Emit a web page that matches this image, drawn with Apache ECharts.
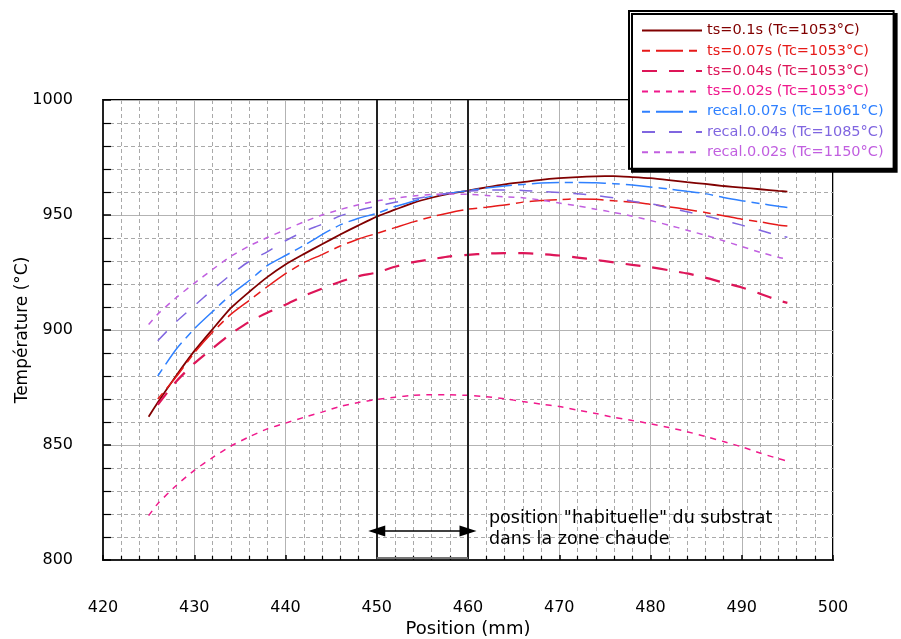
<!DOCTYPE html>
<html>
<head>
<meta charset="utf-8">
<script src="https://cdn.jsdelivr.net/npm/echarts@6/dist/echarts.min.js"></script>
<style>
html,body{margin:0;padding:0;background:#fff;}
#chart{width:901px;height:639px;}
</style>
</head>
<body>
<div id="chart"></div>
<script>
// ---- data ----
const positions = [425,426,428,430,432,434,436,438,440,442,444,446,448,450,452,454,456,458,460,462,464,466,468,470,472,474,476,478,480,482,484,486,488,490,492,494,495];

const ts010 = [862.3,868.5,880,890.8,900.3,909.5,916.5,923,928.5,933,937.3,941.5,945.5,949.3,952.3,955.3,957.5,959.3,960.6,962,963.3,964.3,965.3,966,966.5,966.8,966.9,966.5,966,965.2,964.3,963.5,962.6,961.9,961.2,960.5,960.2];
const ts007 = [null,870,879.5,890,899,906.8,912.8,918.8,924.5,929.3,932.8,936.5,939.6,942,944.5,947,949.2,951,952.5,953.4,954.3,955.6,956.3,956.7,957,956.8,956.2,955.6,954.6,953.6,952.4,951.1,949.7,948.2,947,945.7,945.2];
const ts004 = [null,867.5,877.5,885.5,892,898.3,903.5,907.5,911,914.8,918,921,923.4,925,927.5,929.5,930.8,932,932.7,933.2,933.4,933.4,933,932.4,931.5,930.5,929.4,928.3,927.3,926,924.6,922.8,920.6,918.5,915.8,912.9,911.8];
const ts002 = [819.3,824.5,832.3,839,844.5,849.5,853.5,857,859.5,862,864.3,866.8,868.5,869.8,870.8,871.6,871.9,871.8,871.6,871,870.1,868.9,867.8,866.7,865.2,863.7,862,860.7,859.2,857.6,855.8,853.7,851.5,849.2,846.5,844.1,843];
const recal007 = [null,880,891.5,900.5,908,915.3,921.4,928,932.4,936.7,941.5,945.7,948.6,950.7,953.7,956,958.2,959.5,960.6,961.7,962.6,963.3,963.9,964.1,964.1,964,963.6,963,962.2,961.3,960.3,959.3,957.6,956.2,955,953.8,953.3];
const recal004 = [null,895.3,903.5,910.5,917.5,924,929.8,934,938.8,942.8,946,949.6,952,953.8,955.5,957,958.3,959.6,960.4,960.8,960.9,960.7,960.2,959.8,959.2,958.5,957.4,956,954.9,953.1,951.4,949.6,947.7,945.6,943.4,941,940.3];
const recal002 = [902.4,906.9,914,920.3,926.3,932,936.5,940.2,943.6,947,950,952.4,954.5,956.1,957.3,958.3,958.9,959.1,959,958.5,957.9,957.5,956.5,955.2,954,952.5,951.1,949.5,947.6,945.6,943.4,941.2,938.8,936.3,933.8,931.6,930.8];

const seriesNames = [
  'ts=0.1s (Tc=1053°C)',
  'ts=0.07s (Tc=1053°C)',
  'ts=0.04s (Tc=1053°C)',
  'ts=0.02s (Tc=1053°C)',
  'recal.0.07s (Tc=1061°C)',
  'recal.0.04s (Tc=1085°C)',
  'recal.0.02s (Tc=1150°C)'
];
const seriesValues = [ts010, ts007, ts004, ts002, recal007, recal004, recal002];

const xTicks = {min: 420, max: 500, interval: 10};
const yTicks = {min: 800, max: 1000, interval: 50};

const zoneStart = 450, zoneEnd = 460;
const arrowY = 812.6;
const noteText = 'position "habituelle" du substrat\ndans la zone chaude';
const notePos = [462.3, 813.3];

// ---- styles ----
const FONT = 'DejaVu Sans';
const styles = [
  {color:'#800000', width:1.8, type:'solid'},
  {color:'#e61919', width:1.5, type:[8,6,27,6]},
  {color:'#dd1558', width:2.2, type:[15,12]},
  {color:'#f0198c', width:1.5, type:[6,6]},
  {color:'#2f80ff', width:1.5, type:[8,6,27,6]},
  {color:'#8066e0', width:1.5, type:[13,14]},
  {color:'#c15fe0', width:1.5, type:[6,6]}
];

const chart = echarts.init(document.getElementById('chart'), null, {renderer:'canvas'});

const series = seriesNames.map((name, i) => ({
  name: name,
  type: 'line',
  data: positions.map((x, k) => [x, seriesValues[i][k]]),
  showSymbol: false,
  symbol: 'none',
  smooth: 0.2,
  color: styles[i].color,
  lineStyle: {color: styles[i].color, width: styles[i].width, type: styles[i].type},
  z: 3
}));

series.push({
  name: '__annot',
  type: 'line',
  data: [],
  symbol: 'none',
  silent: true,
  z: 4,
  markLine: {
    silent: true,
    animation: false,
    symbol: ['none','none'],
    label: {show: false},
    emphasis: {disabled: true},
    data: [
      [{coord:[zoneStart, yTicks.min], lineStyle:{color:'#222', width:2, type:'solid'}}, {coord:[zoneStart, yTicks.max]}],
      [{coord:[zoneEnd, yTicks.min], lineStyle:{color:'#222', width:2, type:'solid'}}, {coord:[zoneEnd, yTicks.max]}],
      [{coord:[zoneStart, arrowY], symbol:'triangle', symbolSize:[11,17], lineStyle:{color:'#000', width:1.5, type:'solid'}},
       {coord:[zoneEnd, arrowY], symbol:'triangle', symbolSize:[11,17]}],
      [{coord:[zoneStart, 800.9], lineStyle:{color:'#777', width:2, type:'solid'}}, {coord:[zoneEnd, 800.9]}]
    ]
  }
});

const plain = v => String(v);

const option = {
  animation: false,
  backgroundColor: '#fff',
  textStyle: {fontFamily: FONT},
  grid: {left:103, right:68, top:100, bottom:79, show:true, borderColor:'#000', borderWidth:2,
         backgroundColor:'#fff', containLabel:false, outerBoundsMode:'none'},
  xAxis: {
    type: 'value', min: xTicks.min, max: xTicks.max, interval: xTicks.interval,
    name: 'Position (mm)', nameLocation: 'middle', nameGap: 60, nameMoveOverlap: false,
    nameTextStyle: {fontSize: 18, fontFamily: FONT, color: '#000'},
    axisLine: {show: true, onZero: false, lineStyle: {color: '#222', width: 2}},
    axisTick: {show: true, inside: true, length: 5, lineStyle: {color: '#000', width: 1.5}},
    minorTick: {show: true, splitNumber: 5, length: 4, lineStyle: {color: '#000', width: 1.2}},
    axisLabel: {fontSize: 16, fontFamily: FONT, color: '#000', margin: 40, formatter: plain},
    splitLine: {show: true, lineStyle: {color: '#b3b3b3', width: 1}},
    minorSplitLine: {show: true, lineStyle: {color: '#a9a9a9', width: 1, type: [4,3]}}
  },
  yAxis: {
    type: 'value', min: yTicks.min, max: yTicks.max, interval: yTicks.interval,
    name: 'Température (°C)', nameLocation: 'middle', nameGap: 72, nameRotate: 90, nameMoveOverlap: false,
    nameTextStyle: {fontSize: 17, fontFamily: FONT, color: '#000'},
    axisLine: {show: true, onZero: false, lineStyle: {color: '#222', width: 2}},
    axisTick: {show: true, inside: true, length: 8, lineStyle: {color: '#000', width: 1.5}},
    minorTick: {show: true, splitNumber: 5, length: 8, lineStyle: {color: '#000', width: 1.2}},
    axisLabel: {fontSize: 16, fontFamily: FONT, color: '#000', margin: 30, formatter: plain},
    splitLine: {show: true, lineStyle: {color: '#b3b3b3', width: 1}},
    minorSplitLine: {show: true, lineStyle: {color: '#a9a9a9', width: 1, type: [4,3]}}
  },
  legend: {
    show: true, orient: 'vertical', left: 629, top: 11,
    itemWidth: 60, itemHeight: 14, itemGap: 5.3,
    padding: [12, 10, 9, 12],
    backgroundColor: '#fff', borderColor: '#000', borderWidth: 2,
    shadowColor: '#000', shadowBlur: 0, shadowOffsetX: 3, shadowOffsetY: 3,
    selectedMode: false,
    itemStyle: {opacity: 0},
    textStyle: {fontSize: 14.5, fontFamily: FONT},
    data: seriesNames.map((n, i) => ({name: n, textStyle: {color: styles[i].color, fontSize: 14.5, fontFamily: FONT}}))
  },
  series: series
};

chart.setOption(option);

const p = chart.convertToPixel({gridIndex: 0}, notePos);
chart.setOption({
  graphic: [{
    type: 'text', left: p[0], top: p[1] - 21, z: 10, silent: true,
    style: {text: noteText, font: '17.5px "DejaVu Sans"', fill: '#000', lineHeight: 21}
  }]
});
</script>
</body>
</html>
